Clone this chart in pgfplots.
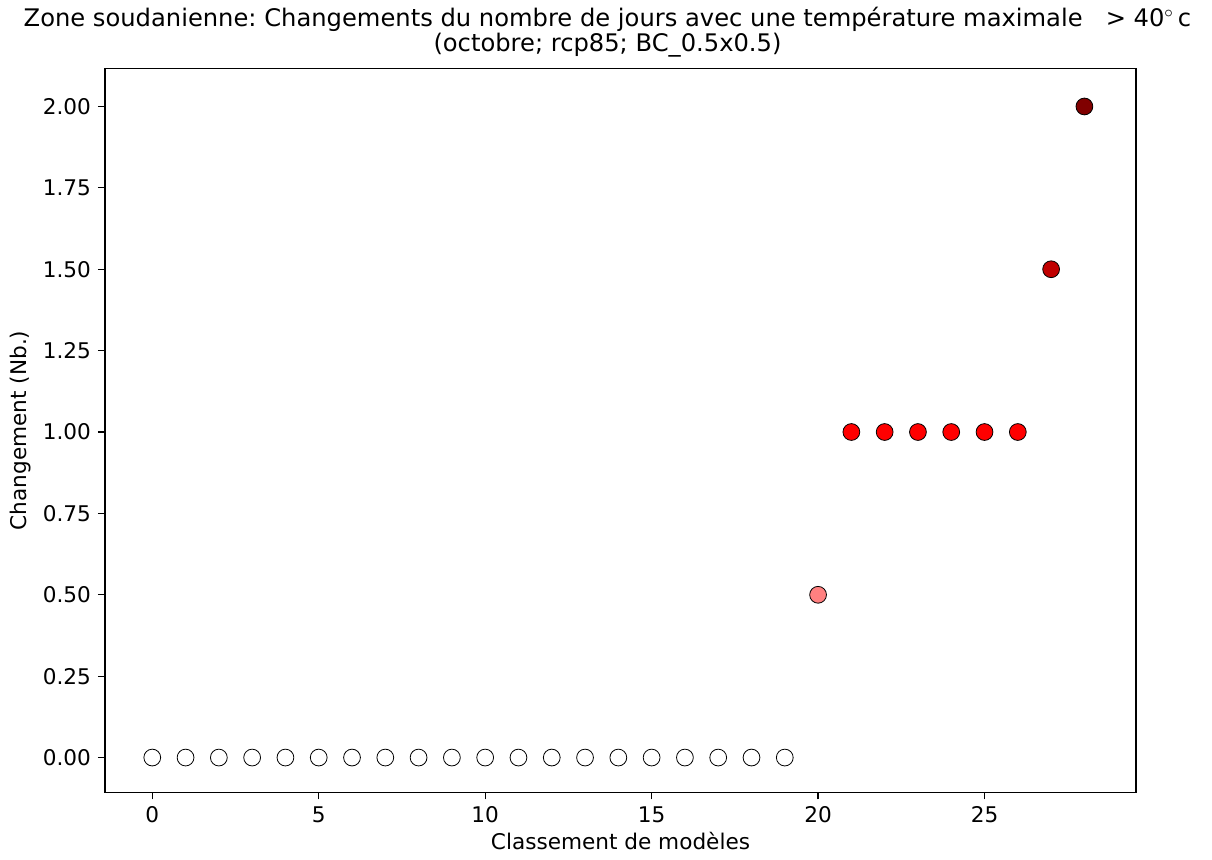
\documentclass[border=0pt]{standalone}
\usepackage{fontspec}
\setmainfont{DejaVu Sans}
\usepackage{pgfplots}
\pgfplotsset{compat=1.18}
\definecolor{pale}{HTML}{FF8080}
\definecolor{mid}{HTML}{FF0000}
\definecolor{deep}{HTML}{C00000}
\definecolor{darkest}{HTML}{800000}
\frenchspacing
\begin{document}
\begin{tikzpicture}
	\begin{axis}[
		scale only axis,
		width=515.5pt, height=362pt,
		xmin=-1.42, xmax=29.55,
		ymin=-0.107, ymax=2.117,
		xtick={0,5,...,25},
		ytick={0,0.25,...,2.0},
		yticklabel style={/pgf/number format/.cd, fixed, fixed zerofill, precision=2},
		/pgf/number format/assume math mode=true,
		tick align=outside,
		xtick pos=bottom, ytick pos=left,
		major tick length=3.5pt,
		tick style={black, line width=0.6pt},
		axis line style={line width=0.6pt},
		ticklabel style={font=\fontsize{10.8}{13}\selectfont},
		xlabel={Classement de modèles},
		ylabel={Changement (Nb.)},
		label style={font=\fontsize{10.8}{13}\selectfont},
		xlabel style={yshift=2pt},
		ylabel style={yshift=-1pt},
		title style={align=center, font=\fontsize{12.1}{12.8}\selectfont, yshift=-4pt, xshift=-6.5pt},
		title={Zone soudanienne: Changements du nombre de jours avec une température maximale \ \ > 40\textsuperscript{$\circ$}\,c\\(octobre; rcp85; BC\_0.5x0.5)},
		every axis plot/.append style={only marks, mark=*, mark size=4.2pt, mark options={draw=black, line width=1.1pt}},
		clip=false,
	]
	% modeles sans changement
	\addplot[mark options={fill=white}] table {
x y
0 0
1 0
2 0
3 0
4 0
5 0
6 0
7 0
8 0
9 0
10 0
11 0
12 0
13 0
14 0
15 0
16 0
17 0
18 0
19 0
	};
	\addplot[mark options={fill=pale}] table {
x y
20 0.5
	};
	\addplot[mark options={fill=mid}] table {
x y
21 1
22 1
23 1
24 1
25 1
26 1
	};
	\addplot[mark options={fill=deep}] table {
x y
27 1.5
	};
	\addplot[mark options={fill=darkest}] table {
x y
28 2
	};
	\end{axis}
	\useasboundingbox ([shift={(-52.5pt,-33.5pt)}]current axis.south west) rectangle ([shift={(38pt,34pt)}]current axis.north east);
\end{tikzpicture}
\end{document}
